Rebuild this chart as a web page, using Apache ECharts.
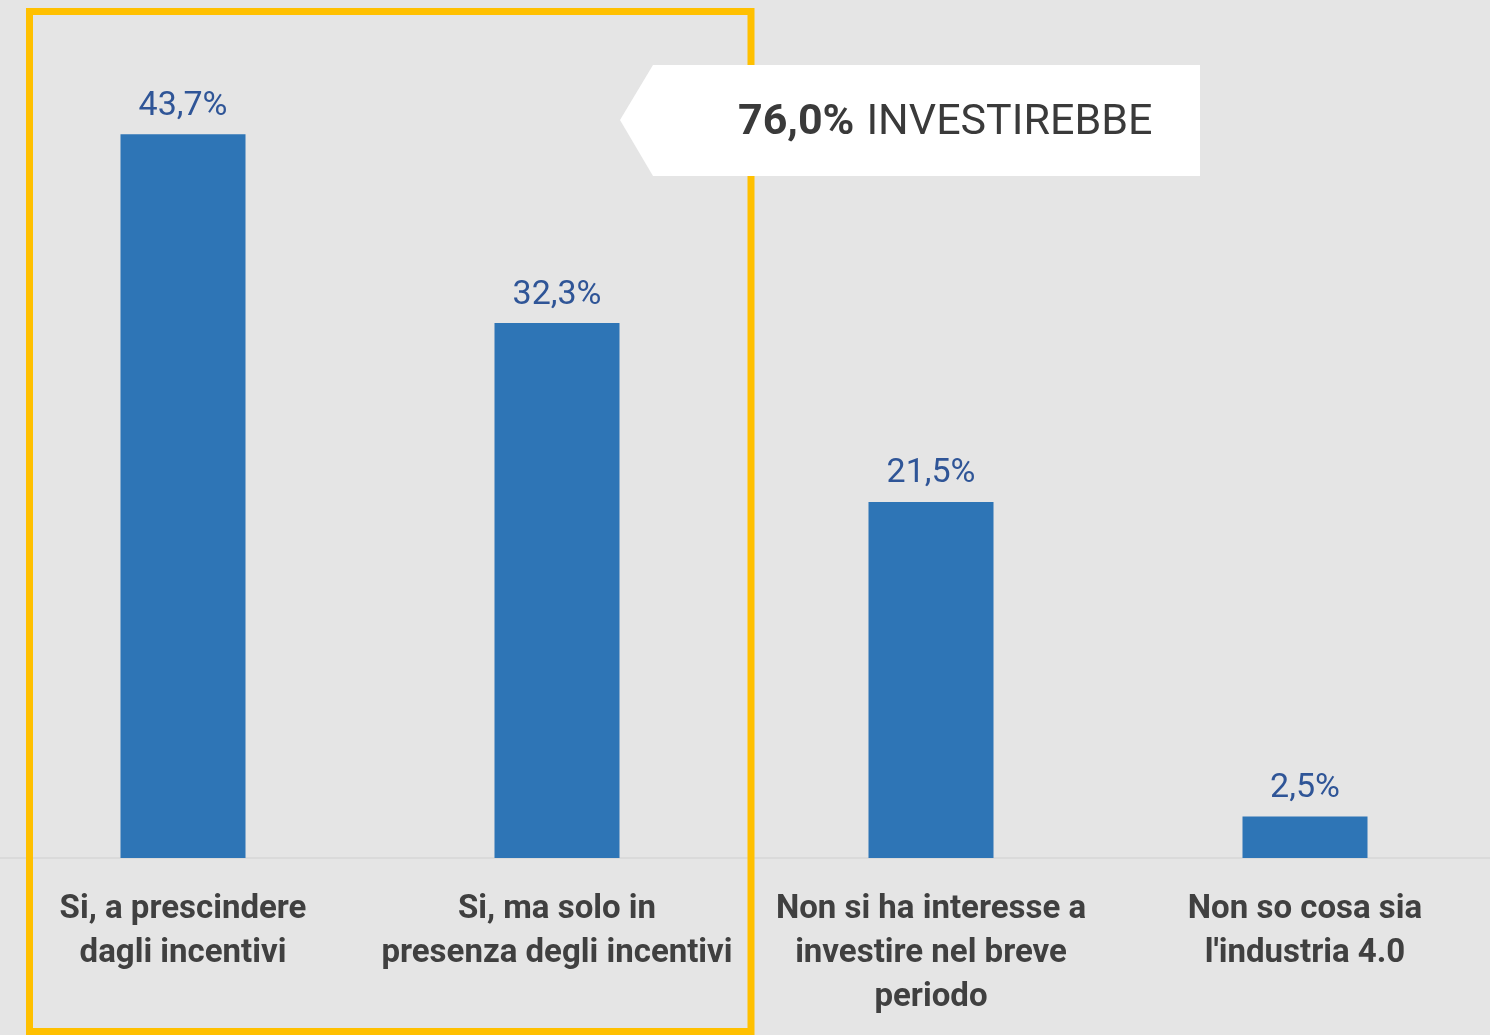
<!DOCTYPE html>
<html>
<head>
<meta charset="utf-8">
<script src="https://cdn.jsdelivr.net/npm/echarts@6/dist/echarts.min.js"></script>
<style>
  html, body { margin: 0; padding: 0; background: #e5e5e5; overflow: hidden; width: 1490px; height: 1035px; }
  /* shifted a few px left so the categories line up with the original */
  #chart { position: absolute; left: -4px; top: 0; width: 1496px; height: 1035px; }
</style>
</head>
<body>
<div id="chart"></div>
<script>
const categories = [
  'Si, a prescindere\ndagli incentivi',
  'Si, ma solo in\npresenza degli incentivi',
  'Non si ha interesse a\ninvestire nel breve\nperiodo',
  "Non so cosa sia\nl'industria 4.0"
]
const values = [43.7, 32.3, 21.5, 2.5]
const calloutValue = '76,0%'
const calloutText = 'INVESTIREBBE'

const chart = echarts.init(document.getElementById('chart'))
const dx = 4 // offset of the div

chart.setOption({
  backgroundColor: '#e5e5e5',
  animation: false,
  grid: { left: 0, right: 0, top: 30, bottom: 177 },
  xAxis: {
    type: 'category',
    data: categories,
    axisLine: { lineStyle: { color: '#d6d6d6', width: 1.5 } },
    axisTick: { show: false },
    axisLabel: {
      interval: 0,
      margin: 30,
      color: '#404040',
      fontFamily: 'Roboto',
      fontWeight: 'bold',
      fontSize: 33,
      lineHeight: 44
    }
  },
  yAxis: {
    type: 'value',
    min: 0,
    max: 50,
    show: false,
    splitLine: { show: false }
  },
  series: [{
    type: 'bar',
    data: values,
    barWidth: 125,
    itemStyle: { color: '#2e75b6' },
    label: {
      show: true,
      position: 'top',
      distance: 11,
      color: '#2f5597',
      fontFamily: 'Roboto',
      fontSize: 34,
      formatter: p => p.value.toFixed(1).replace('.', ',') + '%'
    }
  }],
  graphic: [
    {
      type: 'rect',
      z: 10,
      shape: { x: 29.5 + dx, y: 11.5, width: 721.5, height: 1020 },
      style: { fill: 'none', stroke: '#ffc000', lineWidth: 7 }
    },
    {
      type: 'polygon',
      z: 20,
      shape: { points: [[620 + dx, 120], [653 + dx, 65], [1200 + dx, 65], [1200 + dx, 176], [653 + dx, 176]] },
      style: { fill: '#ffffff' }
    },
    {
      type: 'text',
      z: 21,
      x: 738 + dx,
      y: 123,
      style: {
        text: '{b|' + calloutValue + '}{r|' + calloutText + '}',
        verticalAlign: 'middle',
        rich: {
          b: { fontFamily: 'Roboto', fontWeight: 'bold', fontSize: 43, fill: '#3a3a3a' },
          r: { fontFamily: 'Roboto', fontSize: 43, fill: '#3a3a3a', padding: [0, 0, 0, 12] }
        }
      }
    }
  ]
})
</script>
</body>
</html>
